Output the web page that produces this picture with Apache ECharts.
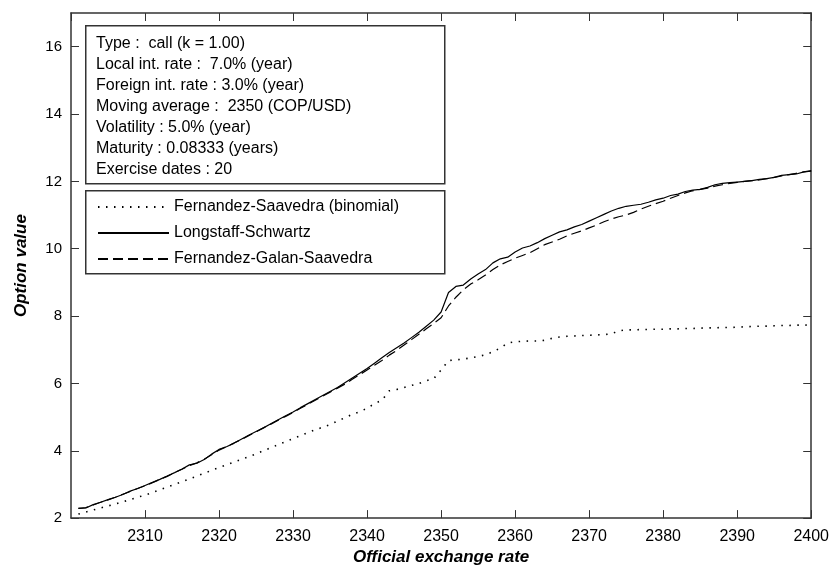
<!DOCTYPE html>
<html>
<head>
<meta charset="utf-8">
<script src="https://cdn.jsdelivr.net/npm/echarts@6/dist/echarts.min.js"></script>
<style>
html,body{margin:0;padding:0;background:#fff;}
#chart{width:832px;height:571px;}
</style>
</head>
<body>
<div id="chart"></div>
<script>
const exchangeRates = [
 2301,2302,2303,2304,2305,2306,2307,2308,2309,2310,
 2311,2312,2313,2314,2315,2316,2317,2318,2319,2320,
 2321,2322,2323,2324,2325,2326,2327,2328,2329,2330,
 2331,2332,2333,2334,2335,2336,2337,2338,2339,2340,
 2341,2342,2343,2344,2345,2346,2347,2348,2349,2350,
 2351,2352,2353,2354,2355,2356,2357,2358,2359,2360,
 2361,2362,2363,2364,2365,2366,2367,2368,2369,2370,
 2371,2372,2373,2374,2375,2376,2377,2378,2379,2380,
 2381,2382,2383,2384,2385,2386,2387,2388,2389,2390,
 2391,2392,2393,2394,2395,2396,2397,2398,2399,2400
];
const binomialValues = [
 2.12,2.18,2.24,2.30,2.36,2.42,2.48,2.55,2.62,2.68,
 2.76,2.84,2.92,3.00,3.08,3.16,3.25,3.33,3.42,3.50,
 3.58,3.66,3.74,3.82,3.91,4.00,4.09,4.18,4.27,4.36,
 4.45,4.54,4.62,4.70,4.78,4.88,4.98,5.08,5.16,5.26,
 5.40,5.50,5.78,5.82,5.88,5.94,6.00,6.08,6.14,6.40,
 6.68,6.70,6.72,6.76,6.80,6.85,6.94,7.05,7.20,7.24,
 7.25,7.26,7.26,7.28,7.34,7.38,7.40,7.41,7.42,7.43,
 7.44,7.45,7.47,7.56,7.59,7.59,7.60,7.60,7.61,7.61,
 7.62,7.62,7.63,7.63,7.64,7.65,7.65,7.66,7.66,7.67,
 7.68,7.69,7.70,7.70,7.71,7.72,7.72,7.73,7.73,7.74
];
const longstaffValues = [
 2.29,2.30,2.40,2.47,2.55,2.62,2.70,2.80,2.88,2.97,
 3.06,3.15,3.25,3.35,3.46,3.58,3.63,3.74,3.90,4.04,
 4.12,4.22,4.34,4.46,4.57,4.68,4.80,4.92,5.04,5.15,
 5.28,5.40,5.52,5.64,5.76,5.88,6.02,6.16,6.30,6.44,
 6.60,6.76,6.92,7.06,7.20,7.36,7.52,7.70,7.88,8.12,
 8.70,8.88,8.92,9.10,9.25,9.38,9.58,9.70,9.75,9.90,
 10.02,10.08,10.18,10.30,10.40,10.50,10.56,10.65,10.72,10.82,
 10.92,11.02,11.12,11.20,11.26,11.29,11.32,11.38,11.45,11.50,
 11.58,11.62,11.70,11.74,11.76,11.82,11.90,11.94,11.96,11.98,
 12.00,12.02,12.06,12.08,12.12,12.18,12.20,12.22,12.28,12.32
];
const galanValues = [
 2.29,2.31,2.39,2.47,2.54,2.62,2.71,2.79,2.88,2.96,
 3.05,3.15,3.24,3.35,3.45,3.56,3.64,3.75,3.88,4.02,
 4.12,4.23,4.33,4.45,4.56,4.68,4.79,4.91,5.02,5.14,
 5.26,5.38,5.50,5.62,5.74,5.86,5.98,6.12,6.26,6.40,
 6.54,6.68,6.84,6.98,7.14,7.30,7.46,7.62,7.78,7.95,
 8.30,8.56,8.78,8.95,9.08,9.22,9.38,9.52,9.62,9.72,
 9.80,9.88,10.00,10.12,10.20,10.28,10.38,10.46,10.53,10.62,
 10.70,10.80,10.88,10.95,11.00,11.08,11.18,11.26,11.34,11.41,
 11.50,11.58,11.66,11.72,11.76,11.80,11.86,11.90,11.94,11.97,
 12.00,12.02,12.04,12.08,12.12,12.16,12.20,12.24,12.28,12.30
];
const seriesNames = ['Fernandez-Saavedra (binomial)', 'Longstaff-Schwartz', 'Fernandez-Galan-Saavedra'];
const infoLines = [
 'Type :  call (k = 1.00)',
 'Local int. rate :  7.0% (year)',
 'Foreign int. rate : 3.0% (year)',
 'Moving average :  2350 (COP/USD)',
 'Volatility : 5.0% (year)',
 'Maturity : 0.08333 (years)',
 'Exercise dates : 20'
];
const xTitle = 'Official exchange rate';
const yTitle = 'Option value';

const FONT = '"Liberation Sans", Arial, sans-serif';
const AX = '#333';
function pairs(xs, ys){ return xs.map((x,i)=>[x, ys[i]]); }

const chart = echarts.init(document.getElementById('chart'), null, {renderer:'canvas'});
const tickCommon = {show:true, inside:true, length:8, lineStyle:{color:AX, width:1}};
chart.setOption({
  animation:false,
  backgroundColor:'#fff',
  grid:{left:71, top:13, right:20, bottom:48, containLabel:false},
  xAxis:[{
    type:'value', min:2300, max:2400, interval:10, position:'bottom',
    name:xTitle, nameLocation:'middle', nameGap:30,
    nameTextStyle:{fontFamily:FONT, fontSize:17, fontWeight:'bold', fontStyle:'italic', color:'#000'},
    axisLine:{show:true, onZero:false, lineStyle:{color:AX, width:1.5}},
    axisTick:tickCommon,
    axisLabel:{show:true, showMinLabel:false, margin:10, fontFamily:FONT, fontSize:16, color:'#000', formatter:function(v){return String(v);}},
    splitLine:{show:false}
  },{
    type:'value', min:2300, max:2400, interval:10, position:'top',
    axisLine:{show:true, onZero:false, lineStyle:{color:AX, width:1.5}},
    axisTick:tickCommon, axisLabel:{show:false}, splitLine:{show:false}
  }],
  yAxis:[{
    type:'value', min:2, max:17, interval:2, position:'left',
    name:yTitle, nameLocation:'middle', nameGap:41,
    nameTextStyle:{fontFamily:FONT, fontSize:17, fontWeight:'bold', fontStyle:'italic', color:'#000'},
    axisLine:{show:true, onZero:false, lineStyle:{color:AX, width:1.5}},
    axisTick:tickCommon,
    axisLabel:{show:true, showMaxLabel:false, margin:9, fontFamily:FONT, fontSize:15, color:'#000', formatter:function(v){return String(v);}},
    splitLine:{show:false}
  },{
    type:'value', min:2, max:17, interval:2, position:'right',
    axisLine:{show:true, onZero:false, lineStyle:{color:AX, width:1.5}},
    axisTick:tickCommon, axisLabel:{show:false}, splitLine:{show:false}
  }],
  legend:{
    show:true, orient:'vertical', left:97, top:199, padding:0, z:30,
    itemWidth:71, itemHeight:14, itemGap:10,
    data:seriesNames,
    itemStyle:{opacity:0},
    lineStyle:{opacity:1},
    textStyle:{fontFamily:FONT, fontSize:16, color:'#000', lineHeight:14},
    inactiveColor:'#000'
  },
  graphic:[
    {type:'rect', left:85, top:25, shape:{x:0,y:0,width:359,height:158}, style:{fill:'#fff', stroke:AX, lineWidth:1.5}, z:10},
    {type:'rect', left:85, top:190, shape:{x:0,y:0,width:359,height:83}, style:{fill:'#fff', stroke:AX, lineWidth:1.5}, z:10},
    {type:'text', left:96, top:33, style:{text:infoLines.join('\n'), font:'16px ' + FONT, lineHeight:21, fill:'#000'}, z:11}
  ],
  series:[
    {name:seriesNames[0], type:'line', data:pairs(exchangeRates, binomialValues), symbol:'none', showSymbol:false,
     lineStyle:{color:'#000', width:1.6, type:[1.5,6.5]}, itemStyle:{color:'#000'}, z:3},
    {name:seriesNames[1], type:'line', data:pairs(exchangeRates, longstaffValues), symbol:'none', showSymbol:false,
     lineStyle:{color:'#000', width:1.2, type:'solid'}, itemStyle:{color:'#000'}, z:4},
    {name:seriesNames[2], type:'line', data:pairs(exchangeRates, galanValues), symbol:'none', showSymbol:false,
     lineStyle:{color:'#000', width:1.2, type:[10,5]}, itemStyle:{color:'#000'}, z:4}
  ]
});
</script>
</body>
</html>
